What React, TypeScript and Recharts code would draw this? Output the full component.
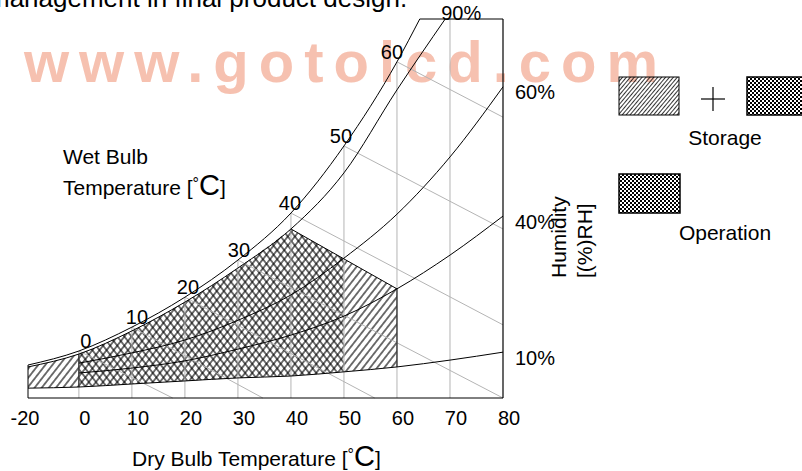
import React from "react";
import { ComposedChart, Line, Area, XAxis, YAxis, LabelList } from "recharts";

// dry bulb axis ticks (°C)
const DRY_BULB_TICKS = [-20, 0, 10, 20, 30, 40, 50, 60, 70, 80];
// wet bulb temperatures labelled on the saturation curve
const WET_BULB = [0, 10, 20, 30, 40, 50, 60];
// where each wet bulb line leaves the chart: [dry bulb °C, height]
const WET_BULB_END: [number, number][] = [
  [17.7, 0], [34.7, 0], [55.8, 0], [80, 0], [80, 19.3], [80, 44.6], [80, 74.1],
];
const GRID_TEMPS = [0, 10, 20, 30, 40, 50, 60, 70];

// relative humidity curves: [dry bulb °C, height on the unlabelled vertical scale 0..100]
const RH_100: [number, number][] = [
  [-20, 8.7], [0, 12.4], [10, 18.7], [20, 26.6], [30, 36.4], [40, 48.8], [50, 66.5], [60, 88.7], [64.3, 100],
];
const RH_90: [number, number][] = [
  [-20, 8.2], [0, 11.6], [10, 17.7], [20, 25.3], [30, 34.3], [40, 44.6], [50, 59.4], [60, 81.3], [69.1, 100],
];
const RH_60: [number, number][] = [
  [0, 9.2], [10, 11.9], [20, 15.3], [30, 20.5], [40, 27.2], [50, 36.9], [60, 48.5], [70, 63.6], [80, 82.1],
];
const RH_40: [number, number][] = [
  [0, 6.6], [10, 7.9], [20, 9.8], [30, 12.9], [40, 16.6], [50, 21.6], [60, 28.8], [70, 37.7], [80, 48.0],
];
const RH_10: [number, number][] = [
  [-20, 2.6], [0, 2.9], [10, 3.7], [20, 4.5], [30, 5.3], [40, 5.8], [50, 6.9], [60, 8.2], [70, 10.0], [80, 12.1],
];
// straight upper-right edge of the storage / operation zones
const UPPER_EDGE: [number, number][] = [[40, 44.6], [50, 36.7], [60, 28.8]];

const STORAGE = { from: -20, to: 60 };
const OPERATION = { from: 0, to: 50 };

const RH_LABELS = [
  { name: "90%", curve: RH_90 },
  { name: "60%", curve: RH_60 },
  { name: "40%", curve: RH_40 },
  { name: "10%", curve: RH_10 },
];

// the chart squeezes the -20..0 °C part of the axis
const NEG_SCALE = 0.48;
const toX = (t: number) => (t < 0 ? t * NEG_SCALE : t);
const pts = (arr: [number, number][]) => arr.map(([t, h]) => ({ x: toX(t), y: h }));
const heightAt = (arr: [number, number][], t: number) => arr.find((p) => p[0] === t)?.[1];

const FONT = "'Liberation Sans', Arial, sans-serif";
const GRAY = "#b4b4b4";

const zone = (top: [number, number][], from: number, to: number) =>
  top
    .filter(([t]) => t >= from && t <= to)
    .map(([t, h]) => ({ x: toX(t), range: [heightAt(RH_10, t) as number, h] }));

const storageCurved = zone(RH_90, STORAGE.from, 40);
const storageEdge = zone(UPPER_EDGE, 40, STORAGE.to);
const operationCurved = zone(RH_90, OPERATION.from, 40);
const operationEdge = zone(UPPER_EDGE, 40, OPERATION.to);

const renderTick = (p: any) => {
  const t = DRY_BULB_TICKS.find((v) => Math.abs(toX(v) - p.payload.value) < 1e-6) as number;
  return (
    <text x={p.x + (t < 0 ? -3 : 6)} y={p.y + 27} textAnchor="middle" fontSize={20} fontFamily={FONT} fill="#000">
      {t}
    </text>
  );
};

const lineProps = { dot: false, activeDot: false, isAnimationActive: false, legendType: "none" as const };

export default function App() {
  return (
    <div style={{ position: "absolute", left: 0, top: 0, width: 802, height: 471, background: "#fff", overflow: "hidden" }}>
      {/* watermark */}
      <svg width={802} height={471} style={{ position: "absolute", left: 0, top: 0 }}>
        <text x={24} y={82} fontSize={58} fontWeight="bold" letterSpacing={10} fontFamily={FONT} fill="#f4ad96" opacity={0.75}>
          www.gotolcd.com
        </text>
      </svg>

      <div style={{ position: "absolute", left: 0, top: 0 }}>
        <ComposedChart width={802} height={471} margin={{ top: 19, right: 299, bottom: 43, left: 28 }}>
          <defs>
            <pattern id="hatchStorage" patternUnits="userSpaceOnUse" width={5.6} height={10} patternTransform="rotate(38)">
              <line x1={2.8} y1={0} x2={2.8} y2={10} stroke="#000" strokeWidth={1.1} />
            </pattern>
            <pattern id="hatchOperation" patternUnits="userSpaceOnUse" width={5.6} height={10} patternTransform="rotate(-38)">
              <line x1={2.8} y1={0} x2={2.8} y2={10} stroke="#000" strokeWidth={1.1} />
            </pattern>
          </defs>
          <XAxis
            type="number"
            dataKey="x"
            domain={[toX(-20), 80]}
            ticks={DRY_BULB_TICKS.map(toX)}
            interval={0}
            tickLine={false}
            tickSize={0}
            tickMargin={0}
            height={30}
            axisLine={{ stroke: "#000" }}
            tick={renderTick}
          />
          <YAxis type="number" domain={[0, 100]} hide />

          {/* vertical dry bulb grid up to the saturation curve */}
          {GRID_TEMPS.map((t) => (
            <Line
              key={`g${t}`}
              {...lineProps}
              data={pts([[t, 0], [t, heightAt(RH_100, t) ?? 100]])}
              dataKey="y"
              type="linear"
              stroke={GRAY}
              strokeWidth={1}
            />
          ))}

          {/* wet bulb lines */}
          {WET_BULB.map((t, i) => (
            <Line
              key={`w${t}`}
              {...lineProps}
              data={pts([[t, heightAt(RH_100, t) as number], WET_BULB_END[i]])}
              dataKey="y"
              type="linear"
              stroke={GRAY}
              strokeWidth={1}
            >
              <LabelList
                dataKey="y"
                content={(p: any) =>
                  p.index === 0 ? (
                    <text x={p.x + 7 - t * 0.2} y={p.y - 3} textAnchor="middle" fontSize={20} fontFamily={FONT} fill="#000">
                      {t}
                    </text>
                  ) : null
                }
              />
            </Line>
          ))}

          {/* storage (////) and operation (\\\\) zones */}
          <Area data={storageCurved} dataKey="range" type="monotone" stroke="none" fill="url(#hatchStorage)" fillOpacity={1} isAnimationActive={false} />
          <Area data={storageEdge} dataKey="range" type="linear" stroke="none" fill="url(#hatchStorage)" fillOpacity={1} isAnimationActive={false} />
          <Area data={operationCurved} dataKey="range" type="monotone" stroke="none" fill="url(#hatchOperation)" fillOpacity={1} isAnimationActive={false} />
          <Area data={operationEdge} dataKey="range" type="linear" stroke="none" fill="url(#hatchOperation)" fillOpacity={1} isAnimationActive={false} />

          {/* zone edges */}
          <Line {...lineProps} data={pts(UPPER_EDGE)} dataKey="y" type="linear" stroke="#000" strokeWidth={1} />
          <Line
            {...lineProps}
            data={pts([[OPERATION.from, heightAt(RH_10, OPERATION.from) as number], [OPERATION.from, heightAt(RH_90, OPERATION.from) as number]])}
            dataKey="y"
            type="linear"
            stroke="#000"
            strokeWidth={1}
          />
          <Line
            {...lineProps}
            data={pts([[STORAGE.to, heightAt(RH_10, STORAGE.to) as number], [STORAGE.to, heightAt(UPPER_EDGE, STORAGE.to) as number]])}
            dataKey="y"
            type="linear"
            stroke="#000"
            strokeWidth={1}
          />

          {/* chart outline */}
          <Line {...lineProps} data={pts([[-20, 0], [-20, RH_100[0][1]]])} dataKey="y" type="linear" stroke="#000" strokeWidth={1} />
          <Line {...lineProps} data={pts([[RH_100[RH_100.length - 1][0], 100], [80, 100]])} dataKey="y" type="linear" stroke="#000" strokeWidth={1} />
          <Line {...lineProps} data={pts([[80, 0], [80, 100]])} dataKey="y" type="linear" stroke="#000" strokeWidth={1.2} />

          {/* relative humidity curves */}
          <Line {...lineProps} data={pts(RH_100)} dataKey="y" type="monotone" stroke="#000" strokeWidth={1} />
          {RH_LABELS.map((c) => (
            <Line key={c.name} {...lineProps} data={pts(c.curve)} dataKey="y" type="monotone" stroke="#000" strokeWidth={1}>
              <LabelList
                dataKey="y"
                content={(p: any) =>
                  p.index === c.curve.length - 1 ? (
                    c.name === "90%" ? (
                      <text x={p.x + 16} y={p.y + 1} textAnchor="middle" fontSize={20} fontFamily={FONT} fill="#000">
                        {c.name}
                      </text>
                    ) : (
                      <text x={p.x + 12} y={p.y + 12.5} textAnchor="start" fontSize={20} fontFamily={FONT} fill="#000">
                        {c.name}
                      </text>
                    )
                  ) : null
                }
              />
            </Line>
          ))}
        </ComposedChart>
      </div>

      {/* titles and legend */}
      <svg width={802} height={471} style={{ position: "absolute", left: 0, top: 0, pointerEvents: "none" }} fontFamily={FONT}>
        <defs>
          <pattern id="legendHatch" patternUnits="userSpaceOnUse" width={3} height={6} patternTransform="rotate(40)">
            <line x1={1.5} y1={0} x2={1.5} y2={6} stroke="#000" strokeWidth={0.8} />
          </pattern>
          <pattern id="legendChecker" patternUnits="userSpaceOnUse" width={4} height={4}>
            <rect x={0} y={0} width={4} height={4} fill="#fff" />
            <rect x={0} y={0} width={2} height={2} fill="#000" />
            <rect x={2} y={2} width={2} height={2} fill="#000" />
          </pattern>
        </defs>

        <text x={-12} y={7} fontSize={26} fill="#000">management in final product design.</text>

        <text x={63} y={164} fontSize={21} fill="#000">Wet Bulb</text>
        <text x={63} y={195} fontSize={21} fill="#000">
          Temperature [<tspan fontSize={16} dy={-6}>°</tspan><tspan fontSize={29} dy={6}>C</tspan>]
        </text>

        <text x={132} y={466} fontSize={21} fill="#000">
          Dry Bulb Temperature [<tspan fontSize={16} dy={-6}>°</tspan><tspan fontSize={29} dy={6}>C</tspan>]
        </text>

        <text x={566} y={278} fontSize={21} fill="#000" transform="rotate(-90 566 278)">Humidity</text>
        <text x={592} y={278} fontSize={21} fill="#000" transform="rotate(-90 592 278)">[(%)RH]</text>

        <rect x={619} y={77} width={60} height={38} fill="url(#legendHatch)" stroke="#000" strokeWidth={1} />
        <line x1={701} y1={99} x2={725} y2={99} stroke="#000" strokeWidth={1.2} />
        <line x1={713} y1={87} x2={713} y2={111} stroke="#000" strokeWidth={1.2} />
        <rect x={747} y={77} width={62} height={38} fill="url(#legendChecker)" stroke="#000" strokeWidth={1.5} />
        <text x={725} y={145} fontSize={21} textAnchor="middle" fill="#000">Storage</text>

        <rect x={619} y={174} width={61} height={39} fill="url(#legendChecker)" stroke="#000" strokeWidth={1.5} />
        <text x={725} y={240} fontSize={21} textAnchor="middle" fill="#000">Operation</text>
      </svg>
    </div>
  );
}
